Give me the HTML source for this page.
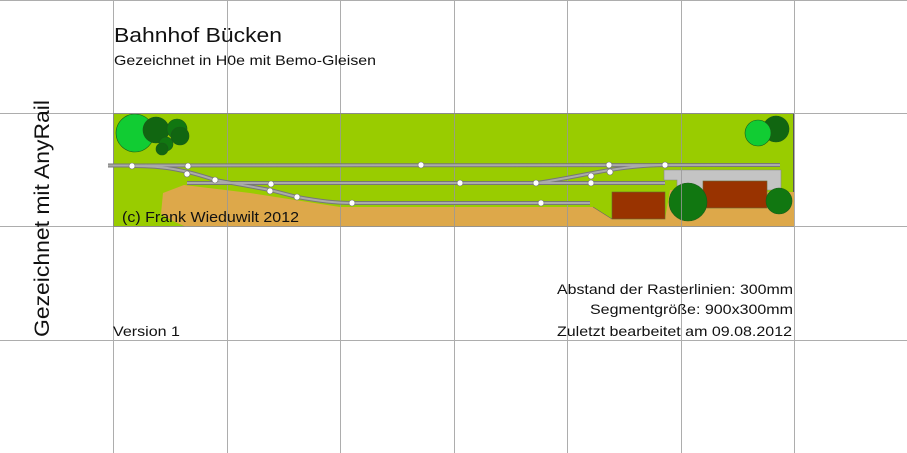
<!DOCTYPE html>
<html><head><meta charset="utf-8"><style>
html,body{margin:0;padding:0;background:#fff}
svg{display:block}
text{font-family:"Liberation Sans",sans-serif;fill:#111}
</style></head><body>
<svg width="907" height="453" viewBox="0 0 907 453" xmlns="http://www.w3.org/2000/svg">
<rect width="907" height="453" fill="#fff"/>
<rect x="113.5" y="113.5" width="680" height="113" fill="#99cc00" stroke="#555" stroke-width="1"/>
<polygon points="161,214 163,193 184,185 250,193 340,207 593,207 612,219 665,219 670,190 770,192 794,192 794,226.5 185,226.5 173,221" fill="#dda84a"/>
<line x1="593" y1="207" x2="612" y2="219" stroke="#666" stroke-width="0.6"/>
<polygon points="664,170 781,170 781,190 677,190 677,180 664,180" fill="#c4c4c4" stroke="#888" stroke-width="0.6"/>
<rect x="612" y="192" width="53" height="27" fill="#993300" stroke="#663" stroke-width="0.6"/>
<rect x="703" y="181" width="64" height="27" fill="#993300" stroke="#663" stroke-width="0.6"/>
<g stroke="#1a5a1a" stroke-width="0.6">
<circle cx="135" cy="133" r="19" fill="#11cc33"/>
<circle cx="156" cy="130" r="13" fill="#116611"/>
<circle cx="177" cy="129" r="10" fill="#117711"/>
<circle cx="180" cy="136" r="9" fill="#116611"/>
<circle cx="166" cy="144" r="7" fill="#117711"/>
<circle cx="162" cy="149" r="6" fill="#116611"/>
<circle cx="776" cy="129" r="13" fill="#116611"/>
<circle cx="758" cy="133" r="13" fill="#11cc33"/>
<circle cx="688" cy="202" r="19" fill="#117711"/>
<circle cx="779" cy="201" r="13" fill="#117711"/>
</g>
<g stroke="#999" stroke-width="1" opacity="0.8">
<line x1="113.5" y1="0" x2="113.5" y2="453"/>
<line x1="227.5" y1="0" x2="227.5" y2="453"/>
<line x1="340.5" y1="0" x2="340.5" y2="453"/>
<line x1="454.5" y1="0" x2="454.5" y2="453"/>
<line x1="567.5" y1="0" x2="567.5" y2="453"/>
<line x1="681.5" y1="0" x2="681.5" y2="453"/>
<line x1="794.5" y1="0" x2="794.5" y2="453"/>
<line x1="0" y1="0.5" x2="907" y2="0.5"/>
<line x1="0" y1="113.5" x2="907" y2="113.5"/>
<line x1="0" y1="226.5" x2="907" y2="226.5"/>
<line x1="0" y1="340.5" x2="907" y2="340.5"/>
</g>
<g fill="none" stroke="#777" stroke-width="4">
<path d="M108,165.5 L780,165"/>
<path d="M187,183 L665,183"/>
<path d="M352,203 L590,203"/>
<path d="M133,166 C165,166 185,170 215,180 L270,190 L297,197 C320,201 335,203 352,203"/>
<path d="M537,183 C570,178 595,172 610,170 C630,167 650,165 665,165"/>
</g>
<g fill="none" stroke="#aaa" stroke-width="2">
<path d="M108,165.5 L780,165"/>
<path d="M187,183 L665,183"/>
<path d="M352,203 L590,203"/>
<path d="M133,166 C165,166 185,170 215,180 L270,190 L297,197 C320,201 335,203 352,203"/>
<path d="M537,183 C570,178 595,172 610,170 C630,167 650,165 665,165"/>
</g>
<g fill="#fff" stroke="#777" stroke-width="0.6">
<circle cx="132" cy="166" r="3"/><circle cx="188" cy="166" r="3"/><circle cx="421" cy="165" r="3"/>
<circle cx="609" cy="165" r="3"/><circle cx="665" cy="165" r="3"/>
<circle cx="187" cy="174" r="3"/><circle cx="215" cy="180" r="3"/>
<circle cx="271" cy="184" r="3"/><circle cx="270" cy="191" r="3"/><circle cx="297" cy="197" r="3"/>
<circle cx="352" cy="203" r="3"/><circle cx="460" cy="183" r="3"/><circle cx="536" cy="183" r="3"/>
<circle cx="591" cy="176" r="3"/><circle cx="610" cy="172" r="3"/><circle cx="591" cy="183" r="3"/>
<circle cx="541" cy="203" r="3"/>
</g>
<text x="114" y="42" font-size="20" textLength="168" lengthAdjust="spacingAndGlyphs">Bahnhof Bücken</text>
<text x="114" y="65" font-size="14" textLength="262" lengthAdjust="spacingAndGlyphs">Gezeichnet in H0e mit Bemo-Gleisen</text>
<text x="122" y="222" font-size="15" textLength="177" lengthAdjust="spacingAndGlyphs">(c) Frank Wieduwilt 2012</text>
<text x="113" y="336" font-size="14" textLength="67" lengthAdjust="spacingAndGlyphs">Version 1</text>
<text x="557" y="294" font-size="14" textLength="236" lengthAdjust="spacingAndGlyphs">Abstand der Rasterlinien: 300mm</text>
<text x="590" y="314" font-size="14" textLength="203" lengthAdjust="spacingAndGlyphs">Segmentgröße: 900x300mm</text>
<text x="557" y="336" font-size="14" textLength="235" lengthAdjust="spacingAndGlyphs">Zuletzt bearbeitet am 09.08.2012</text>
<text transform="translate(49,337) rotate(-90)" font-size="21" textLength="237" lengthAdjust="spacingAndGlyphs">Gezeichnet mit AnyRail</text>
</svg>
</body></html>
